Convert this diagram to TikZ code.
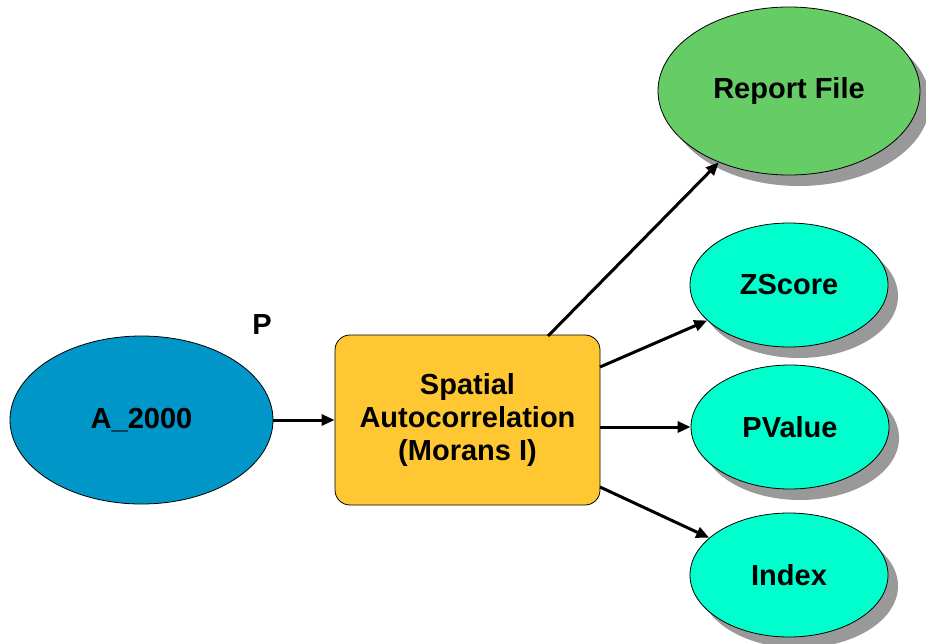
\documentclass[tikz,border=0pt]{standalone}
\usepackage{fontspec}
\setmainfont{Liberation Sans}
\usetikzlibrary{arrows.meta,shadows,shapes.geometric}
\definecolor{inblue}{RGB}{0,150,200}
\definecolor{toolyel}{RGB}{255,200,50}
\definecolor{outgreen}{RGB}{102,204,102}
\definecolor{outcyan}{RGB}{0,255,204}
\tikzset{
  lbl/.style={font=\bfseries\fontsize{29}{33}\selectfont, text=black},
  dataell/.style={ellipse, draw=black, line width=0.8pt, inner sep=0pt, lbl},
  shad/.style={drop shadow={shadow xshift=10pt, shadow yshift=-11pt, opacity=1, fill=black!40}},
  toolbox/.style={rectangle, rounded corners=15pt, draw=black, line width=0.8pt, fill=toolyel, lbl, align=center, minimum width=265pt, minimum height=170pt, inner sep=0pt},
  conn/.style={line width=3pt, -{Triangle[length=13pt,width=11pt]}},
}
\begin{document}
\begin{tikzpicture}[x=1pt,y=-1pt]
\useasboundingbox (0,0) rectangle (926,643);
\node[dataell, fill=inblue, minimum width=263pt, minimum height=168pt] (a) at (141.5,420) {A\_2000};
\node[toolbox] (t) at (467.5,420) {Spatial\\Autocorrelation\\(Morans I)};
\node[dataell, shad, fill=outgreen, minimum width=262pt, minimum height=168pt] (r) at (789,91) {Report File};
\node[dataell, shad, fill=outcyan, minimum width=198pt, minimum height=124pt] (z) at (789,285) {ZScore};
\node[dataell, shad, fill=outcyan, minimum width=198pt, minimum height=124pt] (p) at (790,427) {PValue};
\node[dataell, shad, fill=outcyan, minimum width=198pt, minimum height=124pt] (i) at (789,575) {Index};
\node[lbl] (plabel) at (262,325) {P};
\coordinate (c1) at (548,336);
\coordinate (c2) at (600,367);
\coordinate (c3) at (600,487);
\draw[conn] (a.east) -- (t.west);
\draw[conn] (c1) -- (r);
\draw[conn] (c2) -- (z);
\draw[conn] (t.east |- p.west) -- (p.west);
\draw[conn] (c3) -- (i);
\end{tikzpicture}
\end{document}
